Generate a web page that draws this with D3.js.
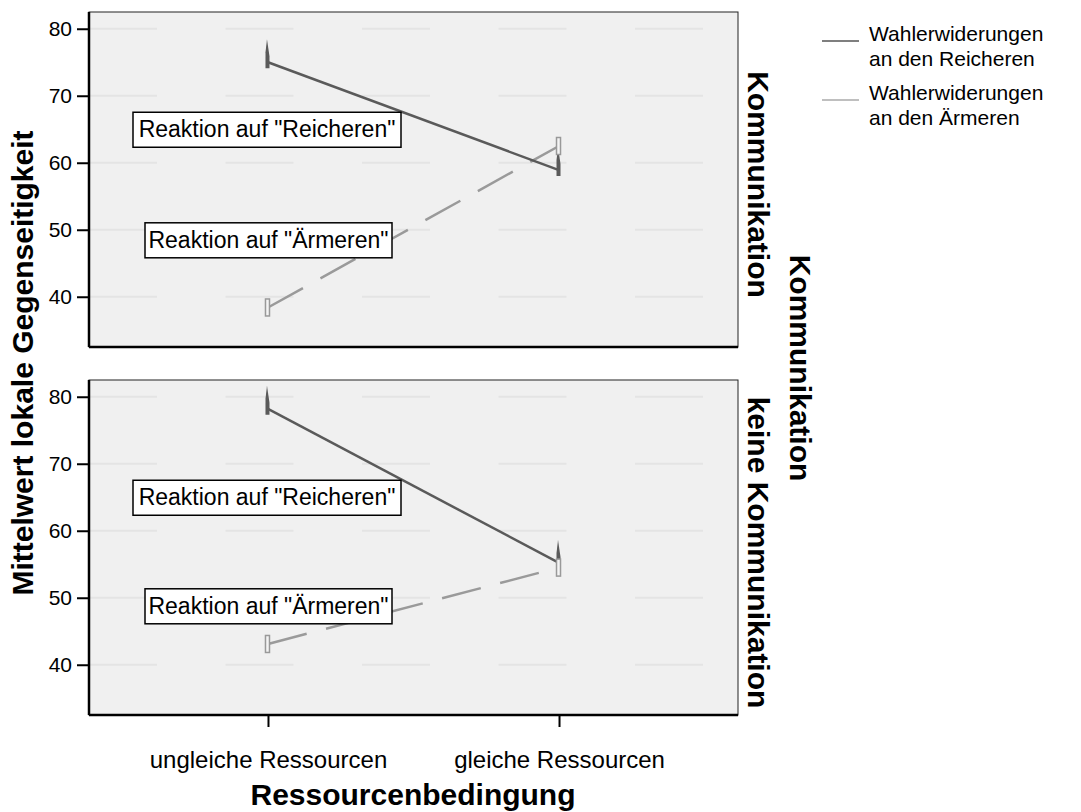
<!DOCTYPE html>
<html>
<head>
<meta charset="utf-8">
<script src="https://cdn.jsdelivr.net/npm/d3@7"></script>
<style>
  body { margin: 0; background: #fff; }
  text { font-family: "Liberation Sans", Arial, sans-serif; fill: #000; }
</style>
</head>
<body>
<div id="viz"></div>
<script>
var width = 1081;
var height = 812;

// data
var categories = ["ungleiche Ressourcen", "gleiche Ressourcen"];
var panels = ["Kommunikation", "keine Kommunikation"];
var reicheren = [[75, 58.9], [78.2, 55.2]];
var aermeren = [[38.4, 62.5], [43.1, 54.5]];
var yTicks = [40, 50, 60, 70, 80];
var seriesNames = [["Wahlerwiderungen", "an den Reicheren"], ["Wahlerwiderungen", "an den Ärmeren"]];
var boxLabels = ['Reaktion auf "Reicheren"', 'Reaktion auf "Ärmeren"'];
// label anchor values (y) in data units for each panel
var boxLabelY = [[65, 48.5], [65, 48.8]];

var left = 89, right = 738;
var panelTops = [12, 380];
var panelH = 335;

var svg = d3.select("#viz").append("svg")
    .attr("width", width)
    .attr("height", height);

var x = d3.scalePoint()
    .domain(categories)
    .range([left, right])
    .padding(0.615);

panels.forEach(function(p, i) {
  var top = panelTops[i];
  var y = d3.scaleLinear().domain([32.5, 82.5]).range([top + panelH, top]);
  var g = svg.append("g");

  g.append("rect")
      .attr("x", left)
      .attr("y", top)
      .attr("width", right - left)
      .attr("height", panelH)
      .style("fill", "#f0f0f0")
      .style("stroke", "#222")
      .style("stroke-width", 1);

  // grid
  g.selectAll(".grid").data(yTicks).enter().append("line")
      .attr("x1", left)
      .attr("x2", right)
      .attr("y1", function(d) { return y(d); })
      .attr("y2", function(d) { return y(d); })
      .style("stroke", "#e4e4e4")
      .style("stroke-width", 2)
      .style("stroke-dasharray", "68,68.5");

  // left axis
  var ax = g.append("g")
      .attr("transform", "translate(" + left + ",0)")
      .call(d3.axisLeft(y).tickValues(yTicks).tickSize(12).tickPadding(5));
  ax.select(".domain").remove();
  ax.selectAll("line").style("stroke-width", 2);
  ax.selectAll("text").style("font-size", "21px");

  g.append("line")
      .attr("x1", left).attr("x2", left)
      .attr("y1", top).attr("y2", top + panelH)
      .style("stroke", "#000").style("stroke-width", 2.5);
  g.append("line")
      .attr("x1", left).attr("x2", right)
      .attr("y1", top + panelH).attr("y2", top + panelH)
      .style("stroke", "#000").style("stroke-width", 2.5);

  // lines
  var line = d3.line()
      .x(function(d, j) { return x(categories[j]); })
      .y(function(d) { return y(d); });

  g.append("path")
      .datum(aermeren[i])
      .attr("d", line)
      .style("fill", "none")
      .style("stroke", "#9a9a9a")
      .style("stroke-width", 2.5)
      .style("stroke-dasharray", "40,20");

  g.append("path")
      .datum(reicheren[i])
      .attr("d", line)
      .style("fill", "none")
      .style("stroke", "#5a5a5a")
      .style("stroke-width", 2.5);

  // markers
  reicheren[i].forEach(function(v, j) {
    var cx = x(categories[j]), cy = y(v);
    g.append("path")
        .attr("d", "M" + (cx - 2.5) + "," + (cy + 6) + "L" + (cx - 2.5) + "," + (cy - 10) +
              "L" + (cx - 1) + "," + (cy - 23) + "L" + (cx + 1.5) + "," + (cy - 6) +
              "L" + (cx + 1.5) + "," + (cy + 6) + "Z")
        .style("fill", "#5a5a5a");
  });
  aermeren[i].forEach(function(v, j) {
    g.append("rect")
        .attr("x", x(categories[j]) - 2.5)
        .attr("y", y(v) - 8.5)
        .attr("width", 4)
        .attr("height", 17)
        .style("fill", "#f4f4f4")
        .style("stroke", "#999")
        .style("stroke-width", 1.5);
  });

  // boxed labels
  boxLabels.forEach(function(t, k) {
    var bx = k == 0 ? 133 : 145;
    var bw = k == 0 ? 268 : 247;
    var by = y(boxLabelY[i][k]);
    g.append("rect")
        .attr("x", bx)
        .attr("y", by - 17)
        .attr("width", bw)
        .attr("height", 35)
        .style("fill", "#fff")
        .style("stroke", "#000")
        .style("stroke-width", 1.5);
    g.append("text")
        .attr("x", bx + bw / 2)
        .attr("y", by + 8)
        .attr("text-anchor", "middle")
        .style("font-size", "23px")
        .text(t);
  });

  // strip label
  g.append("text")
      .attr("transform", "translate(748," + (top + panelH / 2 + 5) + ") rotate(90)")
      .attr("text-anchor", "middle")
      .style("font-size", "30px")
      .style("font-weight", "bold")
      .text(p);
});

// x axis
var xa = svg.append("g")
    .attr("transform", "translate(0," + (panelTops[1] + panelH) + ")")
    .call(d3.axisBottom(x).tickSize(12).tickPadding(24));
xa.select(".domain").remove();
xa.selectAll("line").style("stroke-width", 2);
xa.selectAll("text").style("font-size", "24px");

svg.append("text")
    .attr("x", 413)
    .attr("y", 805)
    .attr("text-anchor", "middle")
    .style("font-size", "30px")
    .style("font-weight", "bold")
    .text("Ressourcenbedingung");

svg.append("text")
    .attr("transform", "translate(33,363) rotate(-90)")
    .attr("text-anchor", "middle")
    .style("font-size", "30px")
    .style("font-weight", "bold")
    .text("Mittelwert lokale Gegenseitigkeit");

svg.append("text")
    .attr("transform", "translate(790,368) rotate(90)")
    .attr("text-anchor", "middle")
    .style("font-size", "30px")
    .style("font-weight", "bold")
    .text("Kommunikation");

// legend
var leg = svg.append("g");
var legColors = ["#555", "#aaa"];
seriesNames.forEach(function(n, i) {
  var ly = 41 + i * 59;
  leg.append("line")
      .attr("x1", 822).attr("x2", 859)
      .attr("y1", ly).attr("y2", ly)
      .style("stroke", legColors[i])
      .style("stroke-width", 1.5);
  leg.append("text")
      .attr("x", 869)
      .attr("y", ly)
      .style("font-size", "21px")
      .text(n[0]);
  leg.append("text")
      .attr("x", 869)
      .attr("y", ly + 24.5)
      .style("font-size", "21px")
      .text(n[1]);
});
</script>
</body>
</html>
